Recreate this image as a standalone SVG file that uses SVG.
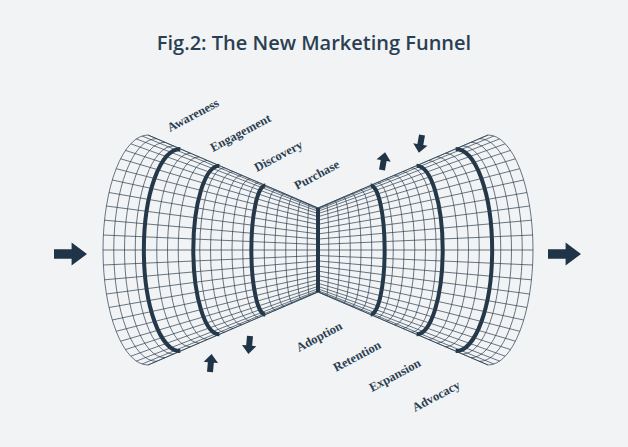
<svg xmlns="http://www.w3.org/2000/svg" xmlns:xlink="http://www.w3.org/1999/xlink" width="628" height="447" viewBox="0 0 628 447">
<style>
.g{fill:none;stroke:#2a3e50;stroke-width:0.7}
.b{fill:none;stroke:#24384a;stroke-width:4}
.t{fill:none;stroke:#2a3e50;stroke-width:0.7}
#a{fill:none;vector-effect:non-scaling-stroke}
.lb{font-family:"Liberation Serif","DejaVu Serif",serif;font-size:12.5px;font-weight:bold;fill:#2b3f52}
.ar{fill:#1f3447}
</style>
<defs>
<path id="a" d="M0,-1 A1,1 0 0 0 0,1"/>
<path id="arr" d="M0,-5 H16 V-12 L30,0 L16,12 V5 H0 Z"/>
<g id="half">
<g class="t">
<use href="#a" transform="translate(309.5,250) scale(2.25,45.65)"/>
<use href="#a" transform="translate(301,250) scale(4.5,49.3)"/>
<use href="#a" transform="translate(292.5,250) scale(6.75,52.95)"/>
<use href="#a" transform="translate(284,250) scale(9,56.6)"/>
<use href="#a" transform="translate(275.5,250) scale(11.25,60.25)"/>
<use href="#a" transform="translate(258.5,250) scale(15.75,67.55)"/>
<use href="#a" transform="translate(250,250) scale(18,71.2)"/>
<use href="#a" transform="translate(241.5,250) scale(20.25,74.85)"/>
<use href="#a" transform="translate(233,250) scale(22.5,78.5)"/>
<use href="#a" transform="translate(224.5,250) scale(24.75,82.15)"/>
<use href="#a" transform="translate(207.5,250) scale(29.25,89.45)"/>
<use href="#a" transform="translate(199,250) scale(31.5,93.1)"/>
<use href="#a" transform="translate(190.5,250) scale(33.75,96.75)"/>
<use href="#a" transform="translate(173.5,250) scale(38.25,104.05)"/>
<use href="#a" transform="translate(165,250) scale(40.5,107.7)"/>
<use href="#a" transform="translate(156.5,250) scale(42.75,111.35)"/>
<use href="#a" transform="translate(148,250) scale(45,115)"/>
</g>
<g class="b">
<use href="#a" transform="translate(265.3,250) scale(13.95,64.6)"/>
<use href="#a" transform="translate(219.4,250) scale(26.1,84.3)"/>
<use href="#a" transform="translate(180.3,250) scale(36.45,101.1)"/>
</g>
<path class="g" d="M318,208L148,135M318,208.4L142.1,136M318,209.4L136.4,138.9M318,211.2L130.8,143.8M318,213.6L125.5,150.4M318,216.7L120.6,158.8M318,220.3L116.2,168.7M318,224.4L112.3,180M318,229L109,192.5M318,233.9L106.4,206M318,239.1L104.5,220.2M318,244.5L103.4,235M318,250L103,250M318,255.5L103.4,265M318,260.9L104.5,279.8M318,266.1L106.4,294M318,271L109,307.5M318,275.6L112.3,320M318,279.7L116.2,331.3M318,283.3L120.6,341.2M318,286.4L125.5,349.6M318,288.8L130.8,356.2M318,290.6L136.4,361.1M318,291.6L142.1,364M318,292L148,365"/>
<path class="g" d="M318,208L148,135M318,292L148,365" stroke-width="1.2"/>
</g>
</defs>
<rect width="628" height="447" fill="#f2f3f4"/>
<text x="314" y="50" text-anchor="middle" font-family="'Open Sans','Liberation Sans',sans-serif" font-size="20" font-weight="600" fill="#2b3f52">Fig.2: The New Marketing Funnel</text>
<g id="funnel">
<use href="#half"/>
<use href="#half" transform="translate(636,0) scale(-1,1)"/>
<line x1="318" y1="208" x2="318" y2="292" stroke="#24384a" stroke-width="4"/>
</g>
<g id="labels">
<text class="lb" transform="translate(170,132) rotate(-28)">Awareness</text>
<text class="lb" transform="translate(213,152) rotate(-28)">Engagement</text>
<text class="lb" transform="translate(257,172) rotate(-28)">Discovery</text>
<text class="lb" transform="translate(297,190) rotate(-28)">Purchase</text>
<text class="lb" transform="translate(299,352) rotate(-28)">Adoption</text>
<text class="lb" transform="translate(336,372) rotate(-28)">Retention</text>
<text class="lb" transform="translate(372,392) rotate(-28)">Expansion</text>
<text class="lb" transform="translate(415,412) rotate(-28)">Advocacy</text>
</g>
<g id="arrows" class="ar">
<use href="#arr" transform="translate(54,254) scale(1.1,0.95)"/>
<use href="#arr" transform="translate(548,254) scale(1.1,0.95)"/>
<use href="#arr" transform="translate(382,170) rotate(-80) scale(0.6)"/>
<use href="#arr" transform="translate(422,135) rotate(100) scale(0.6)"/>
<use href="#arr" transform="translate(250,336) rotate(95) scale(0.6)"/>
<use href="#arr" transform="translate(210,372) rotate(-85) scale(0.6)"/>
</g>
</svg>
